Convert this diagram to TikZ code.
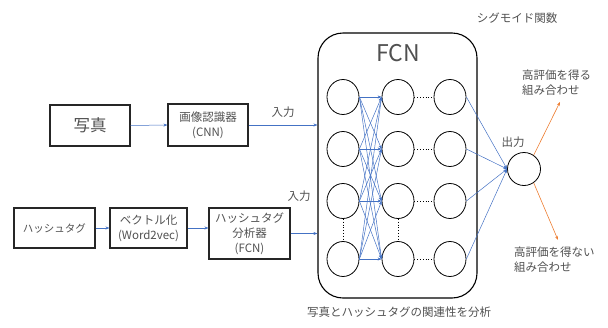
\documentclass[tikz,border=0pt]{standalone}
\usepackage{fontspec}
\setmainfont{Noto Sans CJK JP}
\usetikzlibrary{shapes.geometric,arrows.meta}
\definecolor{txt}{RGB}{80,80,80}
\definecolor{bl}{RGB}{68,114,196}
\definecolor{org}{RGB}{237,125,49}
\begin{document}
\begin{tikzpicture}[x=1pt,y=-1pt,
  box/.style={draw=black!85, line width=1.1pt, text=txt, align=center, inner sep=0pt,
    font=\fontsize{11.5}{15}\selectfont},
  neuron/.style={draw=black, ellipse, line width=0.8pt, minimum width=32pt, minimum height=35pt, inner sep=0pt},
  bar/.style={draw=bl, line width=0.5pt, -{Stealth[length=4pt,width=3pt]}},
  oar/.style={draw=org, line width=0.6pt, -{Stealth[length=4pt,width=3pt]}},
  lab/.style={text=txt, font=\fontsize{11.5}{15}\selectfont, inner sep=0pt},
  dots/.style={draw=black, line width=0.8pt, dotted}]
\useasboundingbox (0,0) rectangle (608,327);

% left boxes
\node[box, minimum width=80pt, minimum height=41pt, font=\fontsize{16.5}{20}\selectfont] (photo) at (90,125.5) {写真};
\node[box, minimum width=80pt, minimum height=42pt] (cnn) at (208,125) {画像認識器\\(CNN)};
\node[box, minimum width=81pt, minimum height=40pt, font=\fontsize{10.5}{14}\selectfont] (tag) at (54.5,228) {ハッシュタグ};
\node[box, minimum width=77pt, minimum height=40pt] (vec) at (148.5,228) {ベクトル化\\(Word2vec)};
\node[box, minimum width=81pt, minimum height=51pt] (ana) at (249.5,233.5) {ハッシュタグ\\分析器\\(FCN)};

% FCN container
\node[draw=black, line width=1.1pt, rounded corners=25pt, minimum width=159pt, minimum height=265pt, inner sep=0pt] (fcn) at (397.5,165.5) {};
\node[text=txt, font=\fontsize{23}{26}\selectfont, inner sep=0pt] (fcnt) at (398,53) {FCN};

% neurons
\foreach \r/\y in {1/97,2/149,3/201,4/259} {
  \node[neuron] (a\r) at (343,\y) {};
  \node[neuron] (b\r) at (398,\y) {};
  \node[neuron] (c\r) at (450,\y) {};
  \draw[dots] (b\r.east) -- (c\r.west);
}
\draw[dots] (a3.south) -- (a4.north);
\draw[dots] (b3.south) -- (b4.north);

\node[draw=black, circle, line width=0.8pt, minimum size=33pt, inner sep=0pt] (out) at (524,169) {};

% connections
\draw[bar] (photo.east) -- (cnn.west);
\draw[bar] (tag.east) -- (tag.east -| vec.west);
\draw[bar] (vec.east) -- (vec.east -| ana.west);
\draw[bar] (cnn.east) -- (cnn.east -| fcn.west);
\draw[bar] (ana.east) -- (ana.east -| fcn.west);
\foreach \i in {1,...,4} {
  \foreach \j in {1,...,4} {
    \draw[bar] (a\i.east) -- (b\j.west);
  }
  \draw[bar] (c\i.east) -- (out.west);
}
\coordinate (up) at (560,102);
\coordinate (dn) at (558,240);
\draw[oar] (out.55) -- (up);
\draw[oar] (out.-55) -- (dn);

% labels
\node[lab] (in1) at (283,112) {入力};
\node[lab] (in2) at (299,196) {入力};
\node[lab] (outl) at (513,142) {出力};
\node[lab] (sig) at (517,18) {シグモイド関数};
\node[lab, anchor=west, align=left] (good) at (522,83) {高評価を得る\\組み合わせ};
\node[lab, anchor=west, align=left] (bad) at (514,259.5) {高評価を得ない\\組み合わせ};
\node[lab] (rel) at (399,312) {写真とハッシュタグの関連性を分析};
\end{tikzpicture}
\end{document}
